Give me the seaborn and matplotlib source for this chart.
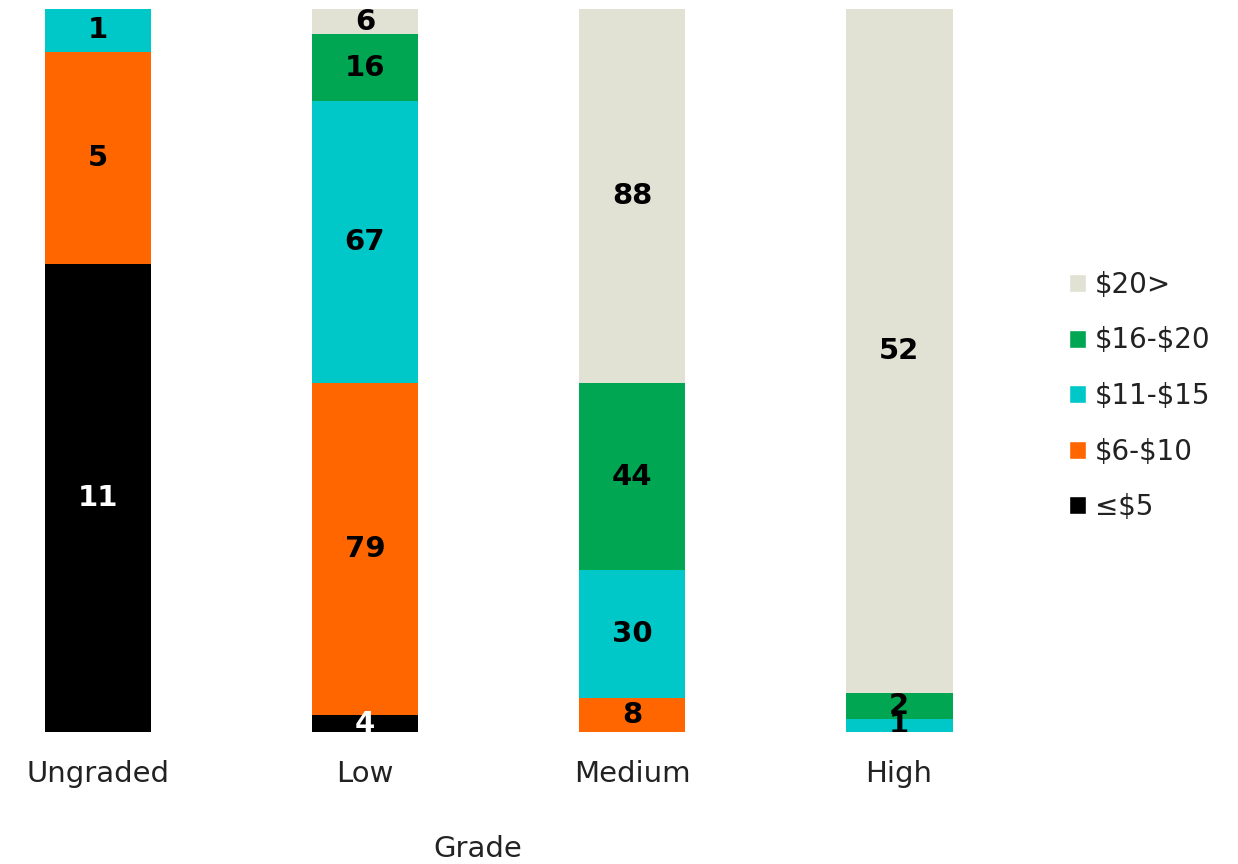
import matplotlib
matplotlib.use("Agg")
import matplotlib.pyplot as plt
import seaborn as sns
import pandas as pd
import numpy as np
from matplotlib.patches import Patch

grades = ["Ungraded", "Low", "Medium", "High"]
bands = ["≤$5", "$6-$10", "$11-$15", "$16-$20", "$20>"]
le5 = [11, 4, 0, 0]
b6_10 = [5, 79, 8, 0]
b11_15 = [1, 67, 30, 1]
b16_20 = [0, 16, 44, 2]
gt20 = [0, 6, 88, 52]
colors = ["#000000", "#FF6600", "#00C8C8", "#00A651", "#E1E2D3"]
label_colors = ["white", "black", "black", "black", "black"]

sns.set_theme(style="white")
plt.rcParams['font.family'] = ['DejaVu Sans']
plt.rcParams['text.parse_math'] = False

counts = np.array([le5, b6_10, b11_15, b16_20, gt20], dtype=float)
totals = counts.sum(axis=0)
shares = counts / totals
cum = np.cumsum(shares, axis=0)

fig = plt.figure(figsize=(12.38, 8.64), dpi=100)
ax = fig.add_axes([0, 132/864, 956/1238, 723/864])

for i in range(len(bands) - 1, -1, -1):
    df = pd.DataFrame({"Grade": grades, "value": cum[i]})
    sns.barplot(data=df, x="Grade", y="value", order=grades, color=colors[i],
                width=0.4, saturation=1, ax=ax, linewidth=0, edgecolor="none")

for i in range(len(bands)):
    for j, g in enumerate(grades):
        if counts[i, j] > 0:
            y = cum[i, j] - shares[i, j] / 2
            ax.text(j, y, f"{int(counts[i, j])}", ha="center", va="center",
                    fontsize=21, fontweight="bold", color=label_colors[i], clip_on=True)

ax.set_ylim(0, 1)
ax.set_xlim(-0.367, 3.213)
ax.set_yticks([])
ax.set_ylabel("")
for s in ax.spines.values():
    s.set_visible(False)
ax.tick_params(axis="x", length=0, labelsize=21, pad=20, colors="#222222")
ax.set_xlabel("Grade", fontsize=21, color="#222222")
ax.xaxis.set_label_coords(0.5, -0.142)

handles = [Patch(facecolor=colors[i], label=bands[i]) for i in range(len(bands) - 1, -1, -1)]
fig.legend(handles=handles, loc="center left", bbox_to_anchor=(1069/1238, 1 - 396/864),
           frameon=False, fontsize=20, handlelength=0.62, handleheight=0.62,
           handletextpad=0.3, labelspacing=0.99, borderaxespad=0, borderpad=0,
           labelcolor="#222222")

fig.savefig("out.png", dpi=100)
